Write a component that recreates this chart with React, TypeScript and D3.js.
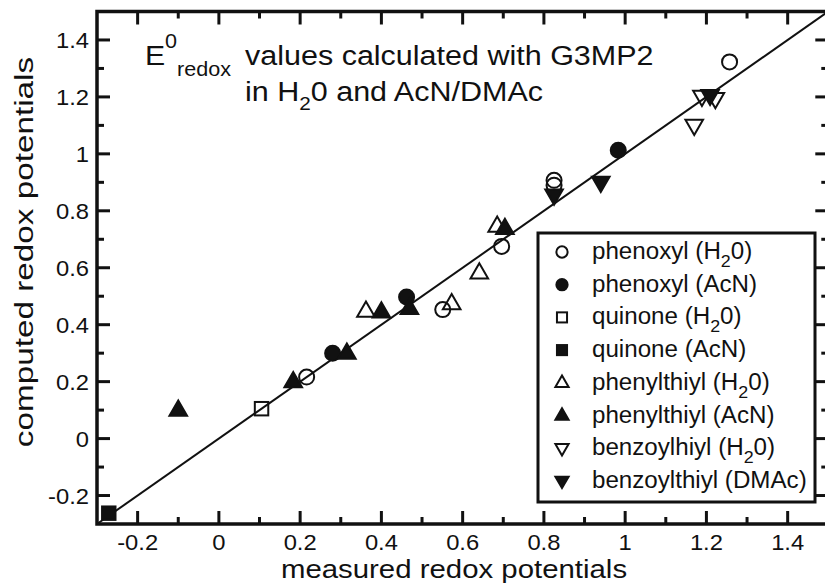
import React from "react";
import * as d3 from "d3";

type Pt = [number, number];

const phenoxylH2O: Pt[] = [[0.216, 0.216], [0.551, 0.453], [0.696, 0.675], [0.825, 0.907], [0.825, 0.89], [1.257, 1.323]];
const phenoxylAcN: Pt[] = [[0.28, 0.3], [0.462, 0.497], [0.983, 1.013]];
const quinoneH2O: Pt[] = [[0.105, 0.105]];
const quinoneAcN: Pt[] = [[-0.271, -0.262]];
const phenylthiylH2O: Pt[] = [[0.362, 0.448], [0.573, 0.474], [0.641, 0.582], [0.685, 0.746]];
const phenylthiylAcN: Pt[] = [[-0.1, 0.1], [0.183, 0.2], [0.315, 0.3], [0.4, 0.445], [0.469, 0.457], [0.704, 0.738]];
const benzoylH2O: Pt[] = [[1.17, 1.1], [1.189, 1.202], [1.222, 1.194]];
const benzoylDMAc: Pt[] = [[0.825, 0.855], [0.94, 0.9], [1.209, 1.205]];

const xTicks = [-0.2, 0, 0.2, 0.4, 0.6, 0.8, 1, 1.2, 1.4];
const yTicks = [-0.2, 0, 0.2, 0.4, 0.6, 0.8, 1, 1.2, 1.4];
const minorTicks = [-0.1, 0.1, 0.3, 0.5, 0.7, 0.9, 1.1, 1.3];
const tickLabels = ["-0.2", "0", "0.2", "0.4", "0.6", "0.8", "1", "1.2", "1.4"];
const fitLine: Pt[] = [[-0.3, -0.3], [1.5, 1.5]];

type Shape = "circle" | "square" | "up" | "down";
const series: { name: string; sub?: string; after: string; shape: Shape; filled: boolean; data: Pt[] }[] = [
  { name: "phenoxyl (H", sub: "2", after: "0)", shape: "circle", filled: false, data: phenoxylH2O },
  { name: "phenoxyl (AcN)", after: "", shape: "circle", filled: true, data: phenoxylAcN },
  { name: "quinone (H", sub: "2", after: "0)", shape: "square", filled: false, data: quinoneH2O },
  { name: "quinone (AcN)", after: "", shape: "square", filled: true, data: quinoneAcN },
  { name: "phenylthiyl (H", sub: "2", after: "0)", shape: "up", filled: false, data: phenylthiylH2O },
  { name: "phenylthiyl (AcN)", after: "", shape: "up", filled: true, data: phenylthiylAcN },
  { name: "benzoylhiyl (H", sub: "2", after: "0)", shape: "down", filled: false, data: benzoylH2O },
  { name: "benzoylthiyl (DMAc)", after: "", shape: "down", filled: true, data: benzoylDMAc },
];

const FONT = "'Liberation Sans', Arial, Helvetica, sans-serif";
const INK = "#111";

function Marker({ shape, filled, cx, cy, s }: { shape: Shape; filled: boolean; cx: number; cy: number; s: number }) {
  const fill = filled ? INK : "none";
  const sw = 2;
  if (shape === "circle") return <circle cx={cx} cy={cy} r={s * 0.47} fill={fill} stroke={INK} strokeWidth={sw} />;
  if (shape === "square") {
    const h = s * 0.42;
    return <rect x={cx - h} y={cy - h} width={2 * h} height={2 * h} fill={fill} stroke={INK} strokeWidth={sw} />;
  }
  const w = s * 0.55;
  const t = s * 0.6;
  const b = s * 0.35;
  const pts = shape === "up"
    ? [[cx, cy - t], [cx + w, cy + b], [cx - w, cy + b]]
    : [[cx, cy + t], [cx + w, cy - b], [cx - w, cy - b]];
  return <polygon points={pts.map((p) => p.join(",")).join(" ")} fill={fill} stroke={INK} strokeWidth={sw} strokeLinejoin="miter" />;
}

export default function App() {
  const W = 825, H = 585;
  const x = d3.scaleLinear().domain([-0.3, 1.5]).range([97, 828.3]);
  const y = d3.scaleLinear().domain([-0.3, 1.5]).range([524, 11.5]);
  const line = d3.line<Pt>().x((d) => x(d[0])).y((d) => y(d[1]));
  const left = x(-0.3), right = x(1.5), top = y(1.5), bottom = y(-0.3);

  const rowY = (i: number) => 252 + i * 32.7;
  const SX = 1.08;

  return (
    <svg width={W} height={H} style={{ position: "absolute", left: 0, top: 0, background: "#fff" }} fontFamily={FONT}>
      <rect width={W} height={H} fill="#fff" />
      <path d={line(fitLine) || ""} stroke={INK} strokeWidth={2} fill="none" />
      <g stroke={INK} strokeWidth={3}>
        {xTicks.map((t) => (
          <g key={"xt" + t}>
            <line x1={x(t)} x2={x(t)} y1={bottom} y2={bottom - 13} />
            <line x1={x(t)} x2={x(t)} y1={top} y2={top + 13} />
          </g>
        ))}
        {minorTicks.map((t) => (
          <g key={"xm" + t}>
            <line x1={x(t)} x2={x(t)} y1={bottom} y2={bottom - 7} />
            <line x1={x(t)} x2={x(t)} y1={top} y2={top + 7} />
          </g>
        ))}
        {yTicks.map((t) => (
          <g key={"yt" + t}>
            <line x1={left} x2={left + 13} y1={y(t)} y2={y(t)} />
            <line x1={right} x2={right - 13} y1={y(t)} y2={y(t)} />
          </g>
        ))}
        {minorTicks.map((t) => (
          <g key={"ym" + t}>
            <line x1={left} x2={left + 7} y1={y(t)} y2={y(t)} />
            <line x1={right} x2={right - 7} y1={y(t)} y2={y(t)} />
          </g>
        ))}
      </g>
      <rect x={left} y={top} width={right - left} height={bottom - top} fill="none" stroke={INK} strokeWidth={3.5} />
      <g fontSize={22} fill={INK}>
        {xTicks.map((t, i) => (
          <text key={"xl" + t} transform={`translate(${x(t)},550) scale(${SX},1)`} textAnchor="middle">{tickLabels[i]}</text>
        ))}
        {yTicks.map((t, i) => (
          <text key={"yl" + t} transform={`translate(89,${y(t) + 8}) scale(${SX},1)`} textAnchor="end">{tickLabels[i]}</text>
        ))}
      </g>
      <text transform={`translate(454,578) scale(1.13,1)`} textAnchor="middle" fontSize={26} fill={INK}>measured redox potentials</text>
      <text transform={`translate(33,252) rotate(-90) scale(1.28,1)`} textAnchor="middle" fontSize={26} fill={INK}>computed redox potentials</text>
      <g fill={INK} fontSize={28}>
        <text transform={`translate(145,65) scale(${SX},1)`}>E</text>
        <text transform={`translate(165,48) scale(${SX},1)`} fontSize={20}>0</text>
        <text transform={`translate(177,76) scale(${SX},1)`} fontSize={20}>redox</text>
        <text transform={`translate(245,65) scale(1.09,1)`}>values calculated with G3MP2</text>
        <text transform={`translate(245,101) scale(1.09,1)`}>
          in H<tspan fontSize={19} dy={9}>2</tspan><tspan dy={-9}>0 and AcN/DMAc</tspan>
        </text>
      </g>
      {series.map((s, si) => (
        <g key={"s" + si}>
          {s.data.map((d, i) => (
            <Marker key={i} shape={s.shape} filled={s.filled} cx={x(d[0])} cy={y(d[1])} s={16} />
          ))}
        </g>
      ))}
      <rect x={538} y={233} width={277} height={269} fill="#fff" stroke={INK} strokeWidth={3} />
      {series.map((s, i) => (
        <g key={"lg" + i}>
          <Marker shape={s.shape} filled={s.filled} cx={562} cy={rowY(i)} s={12} />
          <text transform={`translate(592,${rowY(i) + 7}) scale(1.05,1)`} fontSize={23} fill={INK}>
            {s.name}
            {s.sub ? <tspan fontSize={17} dy={8}>{s.sub}</tspan> : null}
            {s.sub ? <tspan dy={-8}>{s.after}</tspan> : null}
          </text>
        </g>
      ))}
    </svg>
  );
}
